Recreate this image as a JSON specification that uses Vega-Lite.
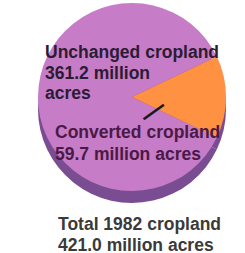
{
  "$schema": "https://vega.github.io/schema/vega-lite/v6.json",
  "width": 224,
  "height": 194,
  "autosize": {"type": "none"},
  "padding": {"left": 20, "top": 0, "right": 1, "bottom": 59},
  "background": "white",
  "config": {"view": {"stroke": null}},
  "title": {
    "text": ["Total 1982 cropland", "421.0 million acres"],
    "orient": "bottom",
    "anchor": "start",
    "dx": 38,
    "offset": 13,
    "font": "Liberation Sans",
    "fontSize": 17.5,
    "fontWeight": "bold",
    "color": "#3a3a3a",
    "lineHeight": 20.5
  },
  "data": {
    "values": [
      {"category": "Unchanged cropland", "acres": 361.2, "label": "Unchanged cropland\n361.2 million\nacres"},
      {"category": "Converted cropland", "acres": 59.7, "label": "Converted cropland\n59.7 million acres"}
    ]
  },
  "layer": [
    {
      "mark": {"type": "arc", "radius": 94, "yOffset": 12, "fill": "#7a4d93"},
      "encoding": {
        "theta": {"field": "acres", "type": "quantitative", "stack": true, "scale": {"range": [1.126, 7.409]}},
        "order": {"field": "category", "sort": "ascending"}
      }
    },
    {
      "mark": {"type": "arc", "radius": 94},
      "encoding": {
        "theta": {"field": "acres", "type": "quantitative", "stack": true},
        "order": {"field": "category", "sort": "ascending"},
        "color": {
          "field": "category",
          "type": "nominal",
          "scale": {"domain": ["Converted cropland", "Unchanged cropland"], "range": ["#ff9142", "#c77cc8"]},
          "legend": null
        }
      }
    },
    {
      "transform": [{"filter": "datum.category === 'Unchanged cropland'"}],
      "mark": {
        "type": "text", "radius": 0, "align": "left", "baseline": "alphabetic",
        "dx": -87, "dy": -39, "lineBreak": "\n", "lineHeight": 20.5,
        "font": "Liberation Sans", "fontSize": 17.5, "fontWeight": "bold", "fill": "#2b1c33"
      },
      "encoding": {
        "theta": {"field": "acres", "type": "quantitative", "stack": true},
        "text": {"field": "label"}
      }
    },
    {
      "transform": [{"filter": "datum.category === 'Converted cropland'"}],
      "mark": {
        "type": "text", "radius": 0, "align": "left", "baseline": "alphabetic",
        "dx": -77, "dy": 41, "lineBreak": "\n", "lineHeight": 21.5,
        "font": "Liberation Sans", "fontSize": 17.5, "fontWeight": "bold", "fill": "#4a1a45"
      },
      "encoding": {
        "theta": {"field": "acres", "type": "quantitative", "stack": true},
        "text": {"field": "label"}
      }
    },
    {
      "transform": [{"filter": "datum.category === 'Converted cropland'"}],
      "mark": {
        "type": "text", "radius": 25.2, "theta": 2.159, "angle": -36,
        "align": "center", "baseline": "middle",
        "font": "Liberation Sans", "fontSize": 25, "fontWeight": "bold", "fill": "#1a1a1a"
      },
      "encoding": {
        "text": {"value": "—"}
      }
    }
  ]
}
